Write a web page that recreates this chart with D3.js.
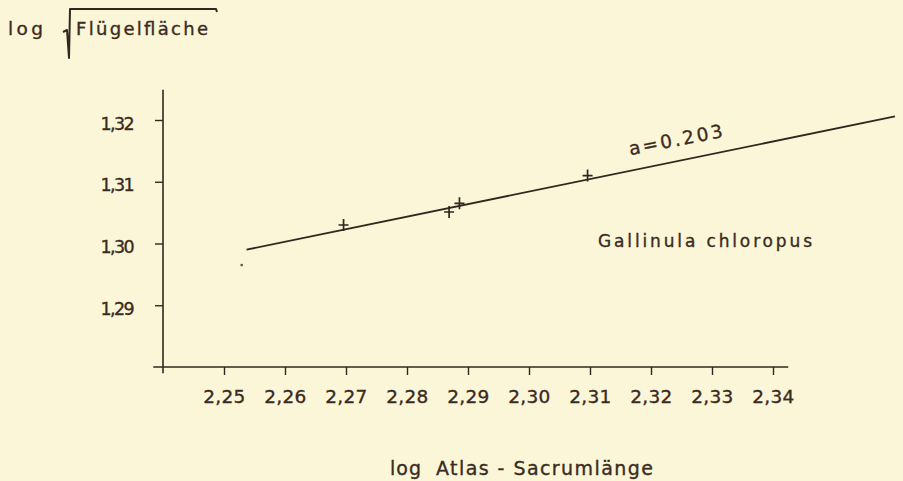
<!DOCTYPE html>
<html>
<head>
<meta charset="utf-8">
<script src="https://cdn.jsdelivr.net/npm/d3@7"></script>
<style>
  html, body { margin: 0; padding: 0; background: #fbf6d8; }
  svg { display: block; }
  text { font-family: "DejaVu Sans", sans-serif; fill: #3a2b22; stroke: #3a2b22; stroke-width: 0.35px; }
</style>
</head>
<body>
<svg id="chart" width="903" height="481"></svg>
<script>
// Measurements: log atlas–sacrum length vs. log sqrt(wing area), Gallinula chloropus
const xTickValues = [2.25, 2.26, 2.27, 2.28, 2.29, 2.30, 2.31, 2.32, 2.33, 2.34];
const xTickLabels = ["2,25", "2,26", "2,27", "2,28", "2,29", "2,30", "2,31", "2,32", "2,33", "2,34"];
const yTickValues = [1.29, 1.30, 1.31, 1.32];
const yTickLabels = ["1,29", "1,30", "1,31", "1,32"];

const sampleX = [2.2696, 2.2869, 2.2886, 2.3096];
const sampleY = [1.3030, 1.3051, 1.3065, 1.3110];

const strayX = [2.2529];
const strayY = [1.2965];

// Fitted line: slope a = 0.203
const fitSlope = 0.203;
const fitX = [2.2537, 2.3600];
const fitAnchor = [2.2537, 1.2990];

const ink = "#33261e";

const svg = d3.select("#chart");

const x = d3.scaleLinear().domain([2.24, 2.34]).range([163, 773]);
const y = d3.scaleLinear().domain([1.28, 1.32]).range([367, 120]);

const xAxisExtent = [2.2384, 2.3425];
const yAxisExtent = [1.279, 1.3249];

// Axis lines
svg.append("line")
  .attr("x1", x(xAxisExtent[0])).attr("x2", x(xAxisExtent[1]))
  .attr("y1", y(1.28)).attr("y2", y(1.28))
  .attr("stroke", ink).attr("stroke-width", 1.6);
svg.append("line")
  .attr("x1", x(2.24)).attr("x2", x(2.24))
  .attr("y1", y(yAxisExtent[0])).attr("y2", y(yAxisExtent[1]))
  .attr("stroke", ink).attr("stroke-width", 1.6);

// Bottom axis ticks and labels
const xAxis = d3.axisBottom(x)
  .tickValues(xTickValues)
  .tickFormat((d, i) => xTickLabels[i])
  .tickSize(8)
  .tickSizeOuter(0)
  .tickPadding(15);
const gx = svg.append("g").attr("transform", `translate(0,${y(1.28)})`).call(xAxis);
gx.select(".domain").remove();
gx.selectAll(".tick line").attr("stroke", ink).attr("stroke-width", 1.4);
gx.selectAll(".tick text")
  .attr("font-size", 18.5)
  .attr("font-family", "DejaVu Sans, sans-serif")
  .attr("fill", "#3a2b22")
  .attr("letter-spacing", 0.3);

// Left axis ticks and labels
const yAxis = d3.axisLeft(y)
  .tickValues(yTickValues)
  .tickFormat((d, i) => yTickLabels[i])
  .tickSize(8)
  .tickSizeOuter(0)
  .tickPadding(22);
const gy = svg.append("g").attr("transform", `translate(${x(2.24)},0)`).call(yAxis);
gy.select(".domain").remove();
gy.selectAll(".tick line").attr("stroke", ink).attr("stroke-width", 1.4);
gy.selectAll(".tick text")
  .attr("font-size", 17.5)
  .attr("dy", "0.52em")
  .attr("font-family", "DejaVu Sans, sans-serif")
  .attr("fill", "#3a2b22")
  .attr("letter-spacing", -1.6);

// Fitted line
const fitY = fitX.map(v => fitAnchor[1] + fitSlope * (v - fitAnchor[0]));
svg.append("path")
  .datum(fitX.map((v, i) => [v, fitY[i]]))
  .attr("d", d3.line().x(d => x(d[0])).y(d => y(d[1])))
  .attr("fill", "none")
  .attr("stroke", ink)
  .attr("stroke-width", 1.8);

// Sample crosses
const samples = sampleX.map((v, i) => [v, sampleY[i]]);
svg.append("g").selectAll("path")
  .data(samples)
  .join("path")
  .attr("d", d => {
    const cx = x(d[0]), cy = y(d[1]);
    return `M${cx - 5},${cy}H${cx + 5}M${cx},${cy - 6}V${cy + 6}`;
  })
  .attr("stroke", ink)
  .attr("stroke-width", 1.7)
  .attr("fill", "none");

// Isolated small dot
svg.append("g").selectAll("circle")
  .data(strayX.map((v, i) => [v, strayY[i]]))
  .join("circle")
  .attr("cx", d => x(d[0]))
  .attr("cy", d => y(d[1]))
  .attr("r", 1.4)
  .attr("fill", "#6b5a4e");

// Slope annotation along the line
const lblX = x(2.3166), lblY = y(1.3143);
svg.append("text")
  .attr("transform", `translate(${lblX},${lblY}) rotate(-11)`)
  .attr("font-size", 18.5)
  .attr("textLength", 95)
  .attr("lengthAdjust", "spacing")
  .text("a=0.203");

// Species label
svg.append("text")
  .attr("x", 598).attr("y", 247)
  .attr("font-size", 17)
  .attr("textLength", 214)
  .attr("lengthAdjust", "spacing")
  .text("Gallinula chloropus");

// Y axis title with radical sign
svg.append("text")
  .attr("x", 8).attr("y", 35)
  .attr("font-size", 18.5)
  .attr("textLength", 35)
  .attr("lengthAdjust", "spacing")
  .text("log");
svg.append("path")
  .attr("d", "M63,32 L67,30 L69,58 L70,9 L216,9 L217,12")
  .attr("fill", "none")
  .attr("stroke", ink)
  .attr("stroke-width", 2)
  .attr("stroke-linejoin", "round");
svg.append("text")
  .attr("x", 76).attr("y", 35)
  .attr("font-size", 18)
  .attr("textLength", 132)
  .attr("lengthAdjust", "spacing")
  .text("Flügelfläche");

// X axis title
svg.append("text")
  .attr("x", 390).attr("y", 475)
  .attr("font-size", 19)
  .attr("textLength", 31)
  .attr("lengthAdjust", "spacing")
  .text("log");
svg.append("text")
  .attr("x", 436).attr("y", 475)
  .attr("font-size", 19)
  .attr("textLength", 217)
  .attr("lengthAdjust", "spacing")
  .text("Atlas - Sacrumlänge");
</script>
</body>
</html>
